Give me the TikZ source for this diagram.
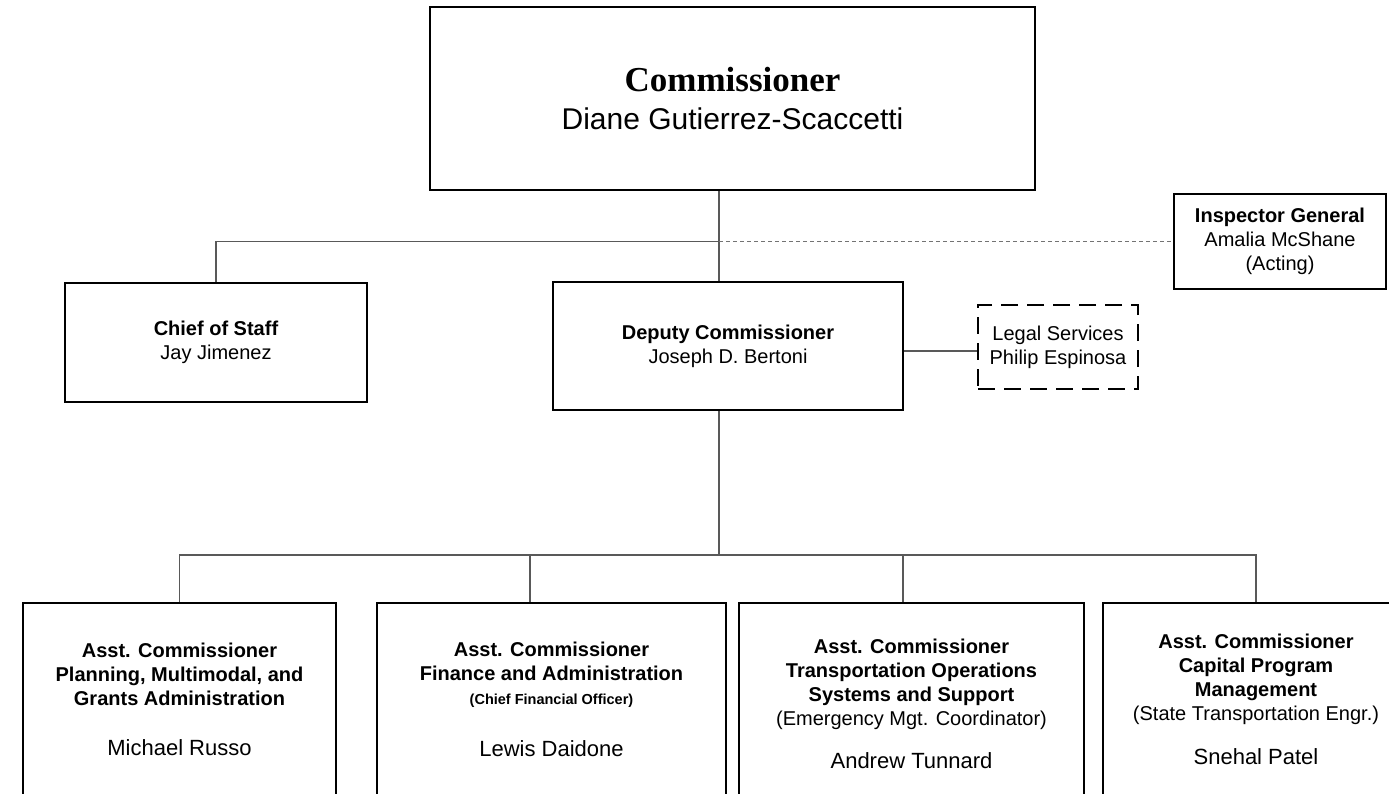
\documentclass[tikz,border=0pt]{standalone}
\usepackage{fontspec}
\setmainfont{Liberation Sans}
\newfontfamily\titlefont{Liberation Serif}
\begin{document}
\begin{tikzpicture}[x=1pt,y=-1pt,
    box/.style={draw,line width=1.8,align=center,inner sep=0pt,font=\fontsize{20}{24}\selectfont},
    dashbox/.style={box,dash pattern=on 17pt off 9pt},
    link/.style={draw=black!65,line width=1.1},
    ghost/.style={draw=black!55,line width=0.8,dash pattern=on 4pt off 3pt}]
\useasboundingbox (0,0) rectangle (1389,793);
\clip (0,0) rectangle (1389,793);
\coordinate (spine) at (719,0);
\coordinate (bus) at (719,555);
\node[box,minimum width=605,minimum height=183,font=\fontsize{30}{38}\selectfont] (boss) at (732.5,98.5)
    {{\titlefont\bfseries\fontsize{35}{38}\selectfont Commissioner}\\
     Diane Gutierrez-Scaccetti};
\node[box,minimum width=212,minimum height=95] (ig) at (1280,241.5)
    {\textbf{Inspector General}\\Amalia McShane\\(Acting)};
\node[box,minimum width=302,minimum height=119] (cos) at (216,342.5)
    {\textbf{Chief of Staff}\\Jay Jimenez};
\node[box,minimum width=350,minimum height=128] (dep) at (728,346)
    {\textbf{Deputy Commissioner}\\Joseph D. Bertoni};
\node[dashbox,minimum width=160,minimum height=84] (legal) at (1058,347)
    {Legal Services\\Philip Espinosa};
% assistant commissioners
\node[box,minimum width=313,minimum height=192] (plan) at (179.5,699)
    {\textbf{Asst. Commissioner}\\\textbf{Planning, Multimodal, and}\\\textbf{Grants Administration}\\[26pt]
     {\fontsize{22}{24}\selectfont Michael Russo}};
\node[box,minimum width=349,minimum height=192] (fin) at (551.5,699)
    {\textbf{Asst. Commissioner}\\\textbf{Finance and Administration}\\
     {\fontsize{14.5}{17}\selectfont\textbf{(Chief Financial Officer)}}\\[28pt]
     {\fontsize{22}{24}\selectfont Lewis Daidone}};
\node[box,minimum width=345,minimum height=202] (ops) at (911.5,704)
    {\textbf{Asst. Commissioner}\\\textbf{Transportation Operations}\\\textbf{Systems and Support}\\
     (Emergency Mgt. Coordinator)\\[19pt]
     {\fontsize{22}{24}\selectfont Andrew Tunnard}};
\node[box,minimum width=306,minimum height=192] (cap) at (1256,699)
    {\textbf{Asst. Commissioner}\\\textbf{Capital Program}\\\textbf{Management}\\
     (State Transportation Engr.)\\[20pt]
     {\fontsize{22}{24}\selectfont Snehal Patel}};
% reporting lines
\draw[link] (spine |- boss.south) -- (spine |- dep.north);
\draw[link] (ig.west -| spine) -| (cos.north);
\draw[ghost] (ig.west -| spine) -- (ig.west);
\draw[link] ([yshift=-5]dep.east) -- ([yshift=-5]dep.east -| legal.west);
\draw[link] (spine |- dep.south) -- (bus);
\draw[link] (plan.north) |- (bus) -| (cap.north);
\draw[link] ([xshift=-21.5]fin.north) -- ([xshift=-21.5]fin.north |- bus);
\draw[link] ([xshift=-8.5]ops.north) -- ([xshift=-8.5]ops.north |- bus);
\end{tikzpicture}
\end{document}
